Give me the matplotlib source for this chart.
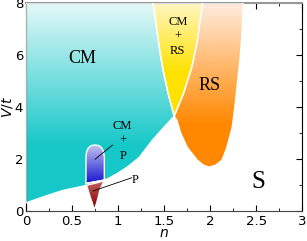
import matplotlib.pyplot as plt
import numpy as np
from matplotlib.colors import LinearSegmentedColormap
from matplotlib.patches import Polygon

# phase boundaries, as (n, V/t)
cm_lower_n = [0, 0.2, 0.4, 0.6, 0.8, 0.9, 1.0, 1.1, 1.23, 1.37, 1.49, 1.61]
cm_lower_v = [0.3, 0.55, 0.78, 0.93, 1.1, 1.25, 1.45, 1.68, 2.05, 2.7, 3.18, 3.64]
cm_right_n = [1.61, 1.545, 1.49, 1.46, 1.42, 1.38]
cm_right_v = [3.64, 4.5, 5.4, 6.0, 7.0, 8.0]
rs_left_n = [1.61, 1.71, 1.8, 1.86, 1.92]
rs_left_v = [3.64, 4.5, 5.5, 6.5, 8.0]
rs_lower_n = [1.61, 1.64, 1.68, 1.75, 1.86, 1.93, 1.99, 2.06, 2.13, 2.18, 2.21, 2.24, 2.27, 2.3, 2.33, 2.35, 2.36]
rs_lower_v = [3.64, 3.48, 3.0, 2.45, 1.95, 1.75, 1.68, 1.75, 1.95, 2.4, 2.8, 3.2, 4.0, 5.0, 6.0, 7.0, 8.0]
cmp_n = [0.652, 0.652, 0.66, 0.68, 0.71, 0.75, 0.79, 0.82, 0.84, 0.851, 0.851]
cmp_v = [1.05, 2.1, 2.3, 2.43, 2.51, 2.53, 2.51, 2.43, 2.3, 2.1, 1.18]
p_n = [0.652, 0.66, 0.674, 0.696, 0.72, 0.742, 0.768, 0.786, 0.804, 0.83, 0.851]
p_v = [1.05, 0.95, 0.8, 0.54, 0.3, 0.03, 0.3, 0.54, 0.8, 1.0, 1.18]


def fill_gradient(ax, xs, ys, c_top, c_bot, v_top, v_bot):
    poly = Polygon(np.column_stack([xs, ys]), closed=True, facecolor='none',
                   edgecolor='white', lw=1, zorder=3)
    ax.add_patch(poly)
    y0, y1 = min(ys), max(ys)
    yy = np.linspace(y0, y1, 256)
    grad = np.clip((yy - v_bot) / (v_top - v_bot), 0, 1).reshape(-1, 1)
    cmap = LinearSegmentedColormap.from_list('g', [c_bot, c_top])
    im = ax.imshow(grad, cmap=cmap, origin='lower', aspect='auto', zorder=2,
                   extent=[min(xs), max(xs), y0, y1], vmin=0, vmax=1)
    im.set_clip_path(poly)


fig = plt.figure(figsize=(3.07, 2.41), dpi=100)
ax = fig.add_axes([0.0847, 0.1257, 0.8993, 0.8619])

cm_x = cm_lower_n + cm_right_n[1:] + [0]
cm_y = cm_lower_v + cm_right_v[1:] + [8]
fill_gradient(ax, cm_x, cm_y, '#e4f8f8', '#16c8c8', 8, 2.5)

y_x = cm_right_n + rs_left_n[::-1]
y_y = cm_right_v + rs_left_v[::-1]
fill_gradient(ax, y_x, y_y, '#fff6c4', '#ffe200', 8, 5.3)

o_x = rs_left_n[::-1] + rs_lower_n[1:]
o_y = rs_left_v[::-1] + rs_lower_v[1:]
fill_gradient(ax, o_x, o_y, '#ffece0', '#ff8800', 8, 3.3)

fill_gradient(ax, cmp_n, cmp_v, '#c6c6f2', '#1c1cd0', 2.53, 1.1)
fill_gradient(ax, p_n, p_v, '#c46060', '#880000', 1.15, 0.1)

serif = 'Liberation Serif'
ax.text(0.61, 5.87, 'CM', family=serif, fontsize=13, ha='center', va='center', zorder=5)
ax.text(1.99, 4.83, 'RS', family=serif, fontsize=13, ha='center', va='center', zorder=5)
ax.text(2.52, 1.1, 'S', family=serif, fontsize=18, ha='center', va='center', zorder=5)
ax.text(1.65, 6.72, 'CM\n+\nRS', family=serif, fontsize=9, ha='center', va='center',
        linespacing=1.3, zorder=5)
ax.text(1.05, 2.68, 'CM\n+\nP', family=serif, fontsize=9, ha='center', va='center',
        linespacing=1.3, zorder=5)
ax.text(1.185, 1.17, 'P', family=serif, fontsize=9, ha='center', va='center', zorder=5)
ax.plot([0.75, 0.94], [1.98, 2.53], color='black', lw=0.6, zorder=5)
ax.plot([0.73, 1.15], [0.76, 1.27], color='black', lw=0.6, zorder=5)

ax.set_xlim(0, 3)
ax.set_ylim(0, 8)
ax.set_xticks([0, 0.5, 1, 1.5, 2, 2.5, 3])
ax.set_xticklabels(['0', '0.5', '1', '1.5', '2', '2.5', '3'])
ax.set_xticks(np.arange(0, 3.01, 0.25), minor=True)
ax.set_yticks([0, 2, 4, 6, 8])
ax.set_yticks([1, 3, 5, 7], minor=True)
ax.tick_params(which='both', direction='in', top=True, right=True, labelsize=9.5)
ax.tick_params(which='major', length=4)
ax.tick_params(which='minor', length=2.5)
ax.tick_params(axis='y', pad=2)
ax.tick_params(axis='x', pad=3)
ax.spines['top'].set_color('#999999')
ax.spines['top'].set_linewidth(1.5)
ax.spines['bottom'].set_color('#444444')
ax.set_xlabel('$n$', fontsize=10, labelpad=-1)
ax.set_ylabel('$V/t$', fontsize=10, labelpad=0)

fig.savefig('out.png', dpi=100)
